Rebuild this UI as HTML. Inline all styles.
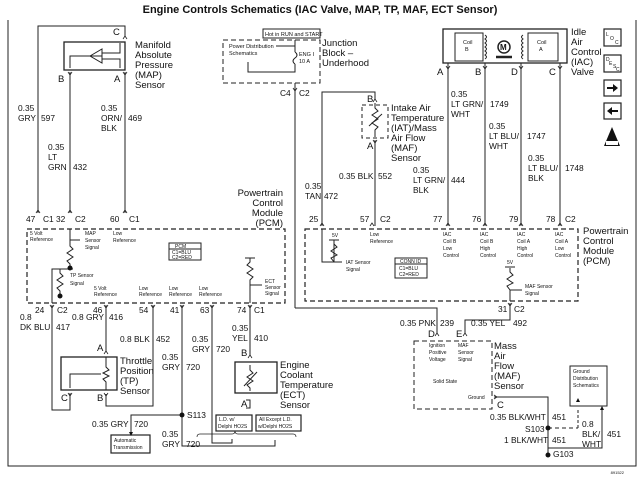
<!DOCTYPE html>
<html><head><meta charset="utf-8"><style>
html,body{margin:0;padding:0;background:#fff;}
svg{display:block;}
text{font-family:"Liberation Sans",Arial,sans-serif;fill:#111;}
.w{font-size:8.4px;}
.n{font-size:9.5px;}
.s{font-size:5px;}
.b{font-size:5.5px;}
</style></head><body>
<svg width="640" height="480" viewBox="0 0 640 480" xmlns="http://www.w3.org/2000/svg">
<g stroke="#222" fill="none" stroke-width="1">
<polyline points="8,20 8,466 636,466 636,20"/>
<polyline points="38,213 38,26 125,26 125,37"/>
<rect x="64" y="42" width="61" height="28" stroke-width="1.3"/>
<polygon points="90,56 102,49 102,63"/>
<polyline points="102,53 120,53 120,43"/><polyline points="102,59 120,59 120,68"/>
<polyline points="102,56 70,56 70,68"/>
<line x1="70" y1="72" x2="70" y2="213"/><line x1="125" y1="72" x2="125" y2="213"/>
<rect x="223" y="40" width="97" height="43" stroke-dasharray="5,3"/>
<rect x="263" y="29" width="57" height="9"/>
<polyline points="276,46 295,46 295,52"/><path d="M295,52 q4,3 0,6 q-4,3 0,6"/>
<polyline points="295,64 295,72 248,72 248,62"/>
<line x1="295" y1="40" x2="295" y2="46"/>
<line x1="295" y1="83" x2="295" y2="308"/>
<polyline points="295,308 437,308 437,333"/>
<rect x="443" y="29" width="124" height="34" stroke-width="1.3"/>
<rect x="455" y="33" width="28" height="28"/><rect x="528" y="33" width="30" height="28"/>
<path d="M485,35 q3,2 0,4 q3,2 0,4 q3,2 0,4 q3,2 0,4 q3,2 0,4 q3,2 0,4"/>
<path d="M523,35 q-3,2 0,4 q-3,2 0,4 q-3,2 0,4 q-3,2 0,4 q-3,2 0,4 q-3,2 0,4"/>
<circle cx="504" cy="47" r="6" stroke-width="1.5"/>
<line x1="496" y1="57" x2="512" y2="57" stroke-width="2.5"/>
<line x1="448" y1="63" x2="448" y2="226"/><line x1="485" y1="63" x2="485" y2="226"/>
<line x1="521" y1="63" x2="521" y2="226"/><line x1="560" y1="63" x2="560" y2="226"/>
<polyline points="322,226 322,92 375,92 375,100"/>
<rect x="362" y="105" width="26" height="33" stroke-dasharray="4,3"/>
<polyline points="375,103 375,108 378,111 372,115 378,119 372,123 378,127 375,130 375,137"/>
<line x1="369" y1="126" x2="382" y2="114"/>
<line x1="375" y1="140" x2="375" y2="226"/>
<rect x="27" y="229" width="258" height="74" stroke-dasharray="5,3" stroke-width="1.2"/>
<rect x="169" y="243" width="32" height="17"/><line x1="169" y1="249" x2="201" y2="249"/>
<polyline points="70,229 70,240 80,240"/><polyline points="70,240 70,246 73,249 67,253 73,257 67,261 70,264 70,268"/>
<polyline points="52,303 52,269 60,269"/><polyline points="60,269 60,273 63,276 57,280 63,284 57,288 60,291 60,296"/>
<line x1="60" y1="269" x2="73" y2="269"/>
<polyline points="250,303 250,285 262,285"/><polyline points="250,285 250,280 253,277 247,273 253,269 247,265 250,262 250,258"/><line x1="245" y1="258" x2="255" y2="258"/>
<rect x="305" y="229" width="273" height="72" stroke-dasharray="5,3" stroke-width="1.2"/>
<rect x="395" y="258" width="32" height="20"/><line x1="395" y1="264" x2="427" y2="264"/>
<polyline points="322,229 322,262 342,262"/><line x1="334" y1="240" x2="334" y2="262"/>
<polyline points="334,240 334,244 337,247 331,251 337,255 331,258 334,262"/><line x1="329" y1="240" x2="339" y2="240"/>
<polyline points="510,268 510,272 513,275 507,279 513,283 507,286 510,290 510,301"/><line x1="505" y1="267" x2="515" y2="267"/>
<line x1="510" y1="290" x2="522" y2="290"/>
<polyline points="510,303 510,320 465,320 465,333"/>
<rect x="414" y="341" width="78" height="68" stroke-dasharray="5,3"/>
<polyline points="494,397 548,397 548,455"/>
<line x1="548" y1="428" x2="578" y2="428" stroke-dasharray="4,3"/>
<line x1="578" y1="428" x2="578" y2="408" stroke-dasharray="3,2"/>
<rect x="570" y="366" width="37" height="40"/>
<polyline points="602,408 602,448 548,448"/>
<polyline points="52,305 52,410 70,410 70,393"/>
<line x1="106" y1="305" x2="106" y2="352"/>
<rect x="61" y="357" width="56" height="33" stroke-width="1.3"/>
<line x1="106" y1="357" x2="106" y2="364"/>
<polyline points="106,364 106,367 109,370 103,373 109,376 103,379 106,382 106,390"/>
<polyline points="101,374 70,374 70,388"/>
<polyline points="153,305 153,406 106,406 106,394"/>
<polyline points="182,305 182,446 275,446 275,440"/>
<polyline points="182,415 131,415 131,432"/>
<rect x="111" y="435" width="39" height="18" stroke-width="1.2"/>
<polyline points="212,305 212,443 232,443 232,439"/>
<line x1="250" y1="305" x2="250" y2="356"/>
<rect x="235" y="362" width="42" height="31" stroke-width="1.3"/>
<polyline points="250,365 250,370 253,373 247,377 253,381 247,385 250,388 250,391"/>
<line x1="244" y1="386" x2="257" y2="372"/>
<polyline points="246,400 250,400 250,408 246,408"/>
<rect x="216" y="415" width="36" height="16" stroke-width="1.2"/><rect x="256" y="415" width="45" height="16" stroke-width="1.2"/>
<path d="M197,437 q0,-3 3,-3 h32 q3,0 3,-3 q0,3 3,3 h55 q3,0 3,3" stroke-width="0.7"/>
</g>
<g fill="#111">
<circle cx="182" cy="415" r="2.5"/><circle cx="548" cy="428" r="2.5"/><circle cx="548" cy="455" r="2.5"/>
<circle cx="70" cy="268" r="2.5"/><circle cx="60" cy="296" r="2.5"/>
<polygon points="129,432 133,432 131,436"/>
<polygon points="576,402 580,402 578,398"/><polygon points="600,410 604,410 602,406"/>
</g>
<g stroke="#222" fill="none" stroke-width="0.8">
<path d="M123,39 l2,-3 l2,3 M68,72 l2,3 l2,-3 M123,72 l2,3 l2,-3 M36,213 l2,-3 l2,3 M68,213 l2,-3 l2,3 M123,213 l2,-3 l2,3 M293,88 l2,3 l2,-3 M446,66 l2,3 l2,-3 M483,66 l2,3 l2,-3 M519,66 l2,3 l2,-3 M558,66 l2,3 l2,-3 M373,102 l2,-3 l2,3 M373,140 l2,3 l2,-3 M320,226 l2,-3 l2,3 M370,226 l2,-3 l2,3 M446,226 l2,-3 l2,3 M483,226 l2,-3 l2,3 M519,226 l2,-3 l2,3 M558,226 l2,-3 l2,3 M508,303 l2,3 l2,-3 M435,336 l2,-3 l2,3 M463,336 l2,-3 l2,3 M494,395 l3,2 l-3,2 M50,305 l2,3 l2,-3 M104,305 l2,3 l2,-3 M151,305 l2,3 l2,-3 M180,305 l2,3 l2,-3 M210,305 l2,3 l2,-3 M248,305 l2,3 l2,-3 M104,354 l2,-3 l2,3 M68,393 l2,3 l2,-3 M104,393 l2,3 l2,-3 M248,358 l2,-3 l2,3"/>
</g>
<text x="320" y="13" text-anchor="middle" style="font-size:11px;font-weight:bold">Engine Controls Schematics (IAC Valve, MAP, TP, MAF, ECT Sensor)</text>
<text class="n" x="113" y="35">C</text><text class="n" x="58" y="82">B</text><text class="n" x="114" y="82">A</text>
<text class="n" x="135" y="48">Manifold</text><text class="n" x="135" y="58">Absolute</text><text class="n" x="135" y="68">Pressure</text><text class="n" x="135" y="78">(MAP)</text><text class="n" x="135" y="88">Sensor</text>
<text class="w" x="18" y="111">0.35</text><text class="w" x="18" y="121">GRY</text><text class="w" x="41" y="121">597</text>
<text class="w" x="101" y="111">0.35</text><text class="w" x="101" y="121">ORN/</text><text class="w" x="128" y="121">469</text><text class="w" x="101" y="131">BLK</text>
<text class="w" x="48" y="150">0.35</text><text class="w" x="48" y="160">LT</text><text class="w" x="48" y="170">GRN</text><text class="w" x="73" y="170">432</text>
<text class="w" x="26" y="222">47</text><text class="w" x="43" y="222">C1</text><text class="w" x="56" y="222">32</text><text class="w" x="75" y="222">C2</text><text class="w" x="110" y="222">60</text><text class="w" x="129" y="222">C1</text>
<text class="n" x="283" y="196" text-anchor="end">Powertrain</text><text class="n" x="283" y="206" text-anchor="end">Control</text><text class="n" x="283" y="216" text-anchor="end">Module</text><text class="n" x="283" y="226" text-anchor="end">(PCM)</text>
<text class="b" x="265" y="36">Hot in RUN and START</text>
<text class="b" x="229" y="48">Power Distribution</text><text class="b" x="229" y="55">Schematics</text>
<text class="b" x="299" y="56">ENG I</text><text class="b" x="299" y="63">10 A</text>
<text class="n" x="322" y="46">Junction</text><text class="n" x="322" y="56">Block –</text><text class="n" x="322" y="66">Underhood</text>
<text class="w" x="280" y="96">C4</text><text class="w" x="299" y="96">C2</text>
<text class="w" x="305" y="189">0.35</text><text class="w" x="305" y="199">TAN</text><text class="w" x="324" y="199">472</text>
<text class="n" x="367" y="102">B</text><text class="n" x="367" y="149">A</text>
<text class="n" x="391" y="111">Intake Air</text><text class="n" x="391" y="121">Temperature</text><text class="n" x="391" y="131">(IAT)/Mass</text><text class="n" x="391" y="141">Air Flow</text><text class="n" x="391" y="151">(MAF)</text><text class="n" x="391" y="161">Sensor</text>
<text class="w" x="339" y="179">0.35 BLK</text><text class="w" x="378" y="179">552</text>
<text class="w" x="413" y="173">0.35</text><text class="w" x="413" y="183">LT GRN/</text><text class="w" x="451" y="183">444</text><text class="w" x="413" y="193">BLK</text>
<text class="b" x="463" y="44">Coil</text><text class="b" x="465" y="51">B</text><text class="b" x="537" y="44">Coil</text><text class="b" x="539" y="51">A</text>
<text x="500" y="50" style="font-size:8px;font-weight:bold">M</text>
<text class="n" x="571" y="35">Idle</text><text class="n" x="571" y="45">Air</text><text class="n" x="571" y="55">Control</text><text class="n" x="571" y="65">(IAC)</text><text class="n" x="571" y="75">Valve</text>
<text class="n" x="437" y="75">A</text><text class="n" x="475" y="75">B</text><text class="n" x="511" y="75">D</text><text class="n" x="549" y="75">C</text>
<text class="w" x="451" y="97">0.35</text><text class="w" x="451" y="107">LT GRN/</text><text class="w" x="490" y="107">1749</text><text class="w" x="451" y="117">WHT</text>
<text class="w" x="489" y="129">0.35</text><text class="w" x="489" y="139">LT BLU/</text><text class="w" x="527" y="139">1747</text><text class="w" x="489" y="149">WHT</text>
<text class="w" x="528" y="161">0.35</text><text class="w" x="528" y="171">LT BLU/</text><text class="w" x="565" y="171">1748</text><text class="w" x="528" y="181">BLK</text>
<text class="w" x="309" y="222">25</text><text class="w" x="360" y="222">57</text><text class="w" x="380" y="222">C2</text><text class="w" x="433" y="222">77</text><text class="w" x="472" y="222">76</text><text class="w" x="509" y="222">79</text><text class="w" x="546" y="222">78</text><text class="w" x="565" y="222">C2</text>
<text class="s" x="332" y="237">5V</text>
<text class="s" x="370" y="236">Low</text><text class="s" x="370" y="243">Reference</text>
<text class="s" x="443" y="236">IAC</text><text class="s" x="443" y="243">Coil B</text><text class="s" x="443" y="250">Low</text><text class="s" x="443" y="257">Control</text>
<text class="s" x="480" y="236">IAC</text><text class="s" x="480" y="243">Coil B</text><text class="s" x="480" y="250">High</text><text class="s" x="480" y="257">Control</text>
<text class="s" x="517" y="236">IAC</text><text class="s" x="517" y="243">Coil A</text><text class="s" x="517" y="250">High</text><text class="s" x="517" y="257">Control</text>
<text class="s" x="555" y="236">IAC</text><text class="s" x="555" y="243">Coil A</text><text class="s" x="555" y="250">Low</text><text class="s" x="555" y="257">Control</text>
<text class="s" x="346" y="264">IAT Sensor</text><text class="s" x="346" y="271">Signal</text>
<text class="s" x="400" y="263">CONN ID</text><text class="s" x="399" y="270">C1=BLU</text><text class="s" x="399" y="276">C2=RED</text>
<text class="s" x="507" y="264">5V</text><text class="s" x="525" y="288">MAF Sensor</text><text class="s" x="525" y="295">Signal</text>
<text class="n" x="583" y="234">Powertrain</text><text class="n" x="583" y="244">Control</text><text class="n" x="583" y="254">Module</text><text class="n" x="583" y="264">(PCM)</text>
<text class="w" x="498" y="312">31</text><text class="w" x="514" y="312">C2</text>
<text class="w" x="400" y="326">0.35 PNK</text><text class="w" x="440" y="326">239</text>
<text class="w" x="471" y="326">0.35 YEL</text><text class="w" x="513" y="326">492</text>
<text class="n" x="428" y="337">D</text><text class="n" x="456" y="337">E</text>
<text class="s" x="429" y="347">Ignition</text><text class="s" x="429" y="354">Positive</text><text class="s" x="429" y="361">Voltage</text>
<text class="s" x="458" y="347">MAF</text><text class="s" x="458" y="354">Sensor</text><text class="s" x="458" y="361">Signal</text>
<text class="s" x="433" y="383">Solid State</text><text class="s" x="468" y="399">Ground</text>
<text class="n" x="494" y="349">Mass</text><text class="n" x="494" y="359">Air</text><text class="n" x="494" y="369">Flow</text><text class="n" x="494" y="379">(MAF)</text><text class="n" x="494" y="389">Sensor</text>
<text class="n" x="497" y="408">C</text>
<text class="s" x="573" y="373">Ground</text><text class="s" x="573" y="380">Distribution</text><text class="s" x="573" y="387">Schematics</text>
<text class="w" x="490" y="420">0.35 BLK/WHT</text><text class="w" x="552" y="420">451</text>
<text class="w" x="525" y="432">S103</text>
<text class="w" x="504" y="443">1 BLK/WHT</text><text class="w" x="552" y="443">451</text>
<text class="w" x="553" y="457">G103</text>
<text class="w" x="582" y="427">0.8</text><text class="w" x="582" y="437">BLK/</text><text class="w" x="582" y="447">WHT</text><text class="w" x="607" y="437">451</text>
<text class="s" x="30" y="235">5 Volt</text><text class="s" x="30" y="241">Reference</text>
<text class="s" x="85" y="235">MAP</text><text class="s" x="85" y="242">Sensor</text><text class="s" x="85" y="249">Signal</text>
<text class="s" x="113" y="235">Low</text><text class="s" x="113" y="242">Reference</text>
<text class="s" x="175" y="248">PCM</text><text class="s" x="172" y="254">C1=BLU</text><text class="s" x="172" y="259">C2=RED</text>
<text class="s" x="70" y="277">TP Sensor</text><text class="s" x="70" y="285">Signal</text>
<text class="s" x="94" y="290">5 Volt</text><text class="s" x="94" y="296">Reference</text>
<text class="s" x="139" y="290">Low</text><text class="s" x="139" y="296">Reference</text>
<text class="s" x="169" y="290">Low</text><text class="s" x="169" y="296">Reference</text>
<text class="s" x="199" y="290">Low</text><text class="s" x="199" y="296">Reference</text>
<text class="s" x="265" y="283">ECT</text><text class="s" x="265" y="289">Sensor</text><text class="s" x="265" y="295">Signal</text>
<text class="w" x="35" y="313">24</text><text class="w" x="57" y="313">C2</text><text class="w" x="93" y="313">46</text><text class="w" x="139" y="313">54</text><text class="w" x="170" y="313">41</text><text class="w" x="200" y="313">63</text><text class="w" x="237" y="313">74</text><text class="w" x="254" y="313">C1</text>
<text class="w" x="20" y="320">0.8</text><text class="w" x="20" y="330">DK BLU</text><text class="w" x="56" y="330">417</text>
<text class="w" x="72" y="320">0.8 GRY</text><text class="w" x="109" y="320">416</text>
<text class="w" x="120" y="342">0.8 BLK</text><text class="w" x="156" y="342">452</text>
<text class="w" x="162" y="360">0.35</text><text class="w" x="162" y="370">GRY</text><text class="w" x="186" y="370">720</text>
<text class="w" x="192" y="342">0.35</text><text class="w" x="192" y="352">GRY</text><text class="w" x="216" y="352">720</text>
<text class="w" x="232" y="331">0.35</text><text class="w" x="232" y="341">YEL</text><text class="w" x="254" y="341">410</text>
<text class="n" x="97" y="351">A</text><text class="n" x="61" y="401">C</text><text class="n" x="97" y="401">B</text>
<text class="n" x="120" y="364">Throttle</text><text class="n" x="120" y="374">Position</text><text class="n" x="120" y="384">(TP)</text><text class="n" x="120" y="394">Sensor</text>
<text class="n" x="241" y="356">B</text><text class="n" x="241" y="407">A</text>
<text class="n" x="280" y="368">Engine</text><text class="n" x="280" y="378">Coolant</text><text class="n" x="280" y="388">Temperature</text><text class="n" x="280" y="398">(ECT)</text><text class="n" x="280" y="408">Sensor</text>
<text class="w" x="187" y="418">S113</text>
<text class="w" x="92" y="427">0.35 GRY</text><text class="w" x="134" y="427">720</text>
<text class="w" x="162" y="437">0.35</text><text class="w" x="162" y="447">GRY</text><text class="w" x="186" y="447">720</text>
<text class="s" x="114" y="442">Automatic</text><text class="s" x="113" y="449">Transmission</text>
<text class="s" x="219" y="421">L.D. w/</text><text class="s" x="218" y="428">Delphi HO2S</text>
<text class="s" x="259" y="421">All Except L.D.</text><text class="s" x="258" y="428">w/Delphi HO2S</text>
<g stroke="#222" fill="none" stroke-width="1.2">
<rect x="604" y="29" width="17" height="17"/><rect x="604" y="55" width="17" height="17"/>
<rect x="604" y="80" width="17" height="16"/><rect x="604" y="103" width="17" height="16"/>
</g>
<text x="606" y="36" style="font-size:5px">L</text><text x="610" y="40" style="font-size:5px">O</text><text x="615" y="44" style="font-size:5px">C</text>
<text x="606" y="61" style="font-size:5px">D</text><text x="609" y="65" style="font-size:5px">E</text><text x="613" y="68" style="font-size:5px">S</text><text x="616" y="71" style="font-size:5px">C</text>
<polygon points="607,87 613,87 613,84 618,88 613,92 613,89 607,89" fill="#111"/>
<polygon points="618,110 612,110 612,107 607,111 612,115 612,112 618,112" fill="#111"/>
<polygon points="612,127 620,146 604,146" fill="#111"/>
<rect x="606" y="141" width="12" height="4" fill="#fff"/>
<text x="624" y="474" style="font-size:4px" text-anchor="end">891522</text>
</svg>
</body></html>
